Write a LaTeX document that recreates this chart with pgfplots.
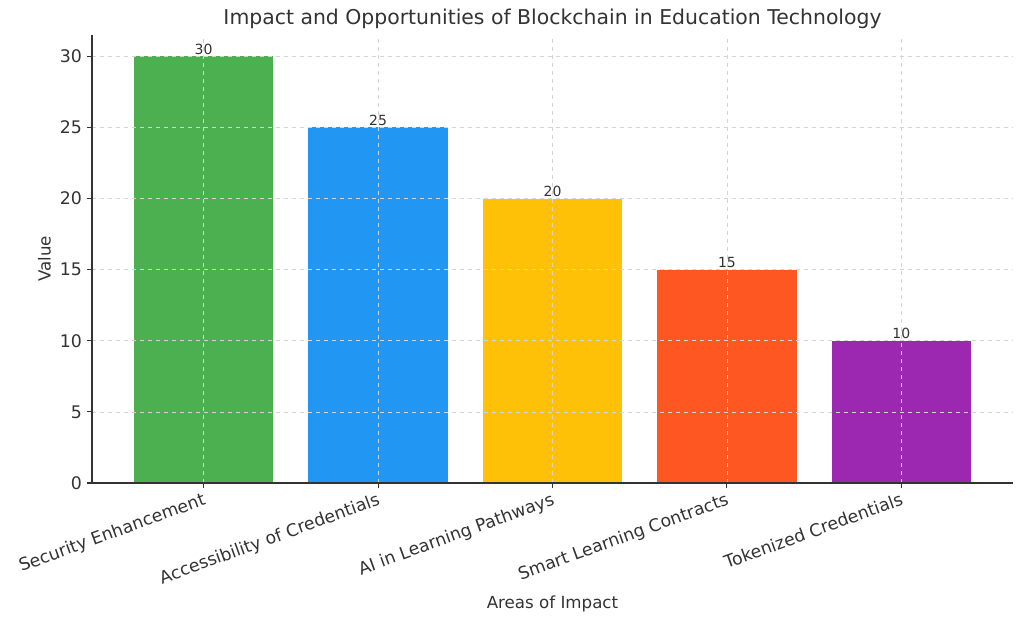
\documentclass[border=0pt]{standalone}
\usepackage{fontspec}
\setmainfont{DejaVu Sans}
\usepackage{pgfplots}
\pgfplotsset{compat=1.18}
\definecolor{cg}{HTML}{4CAF50}
\definecolor{cb}{HTML}{2196F3}
\definecolor{cy}{HTML}{FFC107}
\definecolor{co}{HTML}{FF5722}
\definecolor{cp}{HTML}{9C27B0}
\definecolor{txt}{HTML}{333333}
\begin{document}
\begin{tikzpicture}
\path[use as bounding box] (-69pt,-101.25pt) rectangle (699pt,362.25pt);
\begin{axis}[
  scale only axis,
  width=690.75pt, height=336pt,
  xmin=-0.64, xmax=4.64, ymin=0, ymax=31.5,
  ybar, bar width=0.8,
  axis lines*=left,
  axis line style={black!80, line width=0.9pt},
  xtick={0,1,2,3,4},
  xticklabels={Security Enhancement, Accessibility of Credentials, AI in Learning Pathways, Smart Learning Contracts, Tokenized Credentials},
  ytick={0,5,10,15,20,25,30},
  x tick label style={rotate=20, anchor=north east, font=\fontsize{13}{15}\selectfont, text=txt, inner sep=2pt},
  y tick label style={font=\fontsize{13}{15}\selectfont, text=txt},
  /pgf/number format/assume math mode=true,
  tick align=outside,
  major tick length=4pt,
  tick style={black!80, line width=0.8pt},
  grid=major,
  major grid style={dashed, black!17, line width=0.5pt},
  axis on top,
  title={Impact and Opportunities of Blockchain in Education Technology},
  title style={font=\fontsize{15.3}{17}\selectfont, text=txt, yshift=-5pt},
  xlabel={Areas of Impact},
  ylabel={Value},
  xlabel style={font=\fontsize{12.5}{14}\selectfont, text=txt, yshift=0pt},
  ylabel style={font=\fontsize{12.5}{14}\selectfont, text=txt},
  nodes near coords,
  every node near coord/.append style={font=\fontsize{10.5}{12}\selectfont, text=txt, inner sep=1pt},
  bar shift=0pt,
]
\addplot[fill=cg, draw=none] coordinates {(0,30)};
\addplot[fill=cb, draw=none] coordinates {(1,25)};
\addplot[fill=cy, draw=none] coordinates {(2,20)};
\addplot[fill=co, draw=none] coordinates {(3,15)};
\addplot[fill=cp, draw=none] coordinates {(4,10)};
\end{axis}
\end{tikzpicture}
\end{document}
